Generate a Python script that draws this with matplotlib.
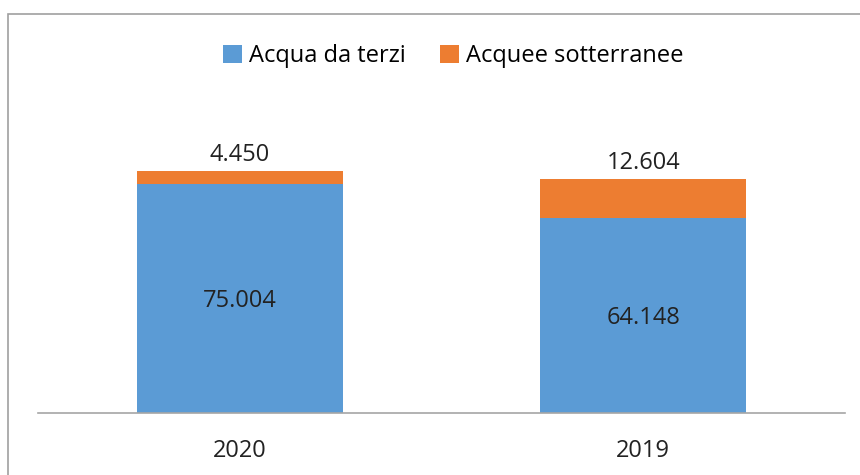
import matplotlib.pyplot as plt
from matplotlib.patches import Rectangle

# data
anni = ["2020", "2019"]
acqua_terzi = [75004, 64148]
acque_sotterranee = [4450, 12604]
etichette_terzi = ["75.004", "64.148"]
etichette_sott = ["4.450", "12.604"]

plt.rcParams['font.family'] = ['Open Sans', 'DejaVu Sans']

blu = "#5b9bd5"
arancio = "#ed7d31"

fig = plt.figure(figsize=(8.6, 4.75), dpi=100)
ax = fig.add_axes([38/860, 62/475, 807/860, 323/475])

x = range(len(anni))
b1 = ax.bar(x, acqua_terzi, width=0.51, color=blu, label="Acqua da terzi")
b2 = ax.bar(x, acque_sotterranee, width=0.51, bottom=acqua_terzi,
            color=arancio, label="Acquee sotterranee")

for i in x:
    ax.text(i, acqua_terzi[i] / 2 - 800, etichette_terzi[i], ha="center", va="center",
            fontsize=17, color="#222222")
    ax.text(i, acqua_terzi[i] + acque_sotterranee[i] + 1300, etichette_sott[i],
            ha="center", va="bottom", fontsize=17, color="#222222")

ax.set_xlim(-0.5, 1.5)
ax.set_ylim(0, 106000)
ax.set_xticks(list(x))
ax.set_xticklabels(anni, fontsize=17, color="#222222")
ax.tick_params(axis="x", length=0, pad=19)
ax.set_yticks([])
for s in ["top", "right", "left"]:
    ax.spines[s].set_visible(False)
ax.spines["bottom"].set_color("#a6a6a6")
ax.spines["bottom"].set_linewidth(1.2)

fig.legend(handles=[b1, b2], loc="center", bbox_to_anchor=(0.527, 1 - 56/475),
           ncol=2, frameon=False, fontsize=17, handlelength=0.8, handleheight=0.8,
           handletextpad=0.3, columnspacing=1.45)

# chart border
fig.patches.append(Rectangle((8/860, -0.1), 1.2, 1.1 - 14/475, transform=fig.transFigure,
                             fill=False, edgecolor="#a0a0a0", linewidth=1.2))

fig.savefig("out.png", dpi=100)
